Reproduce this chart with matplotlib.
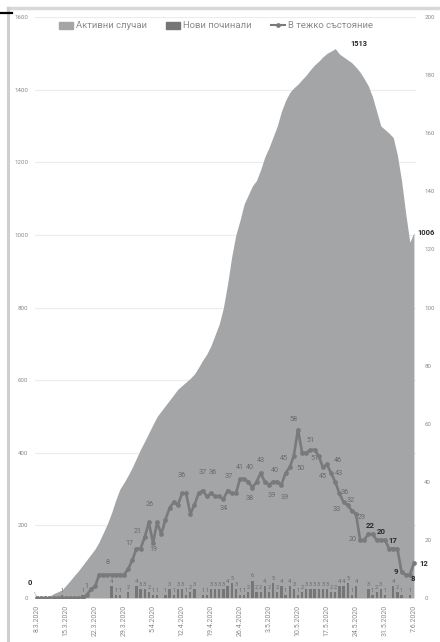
import matplotlib
matplotlib.use("Agg")
import matplotlib.pyplot as plt
from matplotlib.lines import Line2D
from matplotlib.patches import Patch

plt.rcParams['font.family'] = ['Roboto', 'DejaVu Sans']

# ---- data (8.3.2020 .. 7.6.2020, daily) ----
tick_labels = ["8.3.2020", "15.3.2020", "22.3.2020", "29.3.2020", "5.4.2020",
               "12.4.2020", "19.4.2020", "26.4.2020", "3.5.2020", "10.5.2020",
               "17.5.2020", "24.5.2020", "31.5.2020", "7.6.2020"]

active = [0, 0, 2, 5, 12, 17, 22, 35, 48, 62,
          75, 90, 105, 120, 135, 155, 180, 205, 235, 270,
          300, 318, 338, 360, 385, 410, 432, 455, 478, 500,
          515, 530, 545, 560, 575, 585, 595, 605, 617, 635,
          655, 672, 695, 725, 755, 800, 865, 940, 1000, 1040,
          1085, 1110, 1135, 1150, 1180, 1215, 1240, 1270, 1300, 1340,
          1370, 1392, 1405, 1415, 1428, 1440, 1455, 1468, 1478, 1490,
          1500, 1506, 1513, 1498, 1490, 1482, 1474, 1462, 1448, 1430,
          1410, 1380, 1340, 1300, 1290, 1280, 1268, 1220, 1150, 1060,
          980, 1006]

deaths = [0, 0, 0, 0, 0, 0, 1, 0, 0, 0,
          0, 1, 0, 0, 0, 0, 0, 0, 4, 1,
          1, 0, 2, 0, 4, 3, 3, 2, 1, 1,
          0, 1, 3, 1, 3, 3, 1, 2, 3, 0,
          1, 1, 3, 3, 3, 3, 4, 5, 3, 1,
          1, 2, 6, 2, 2, 4, 2, 5, 2, 4,
          1, 4, 3, 1, 2, 3, 3, 3, 3, 3,
          3, 2, 2, 4, 4, 5, 1, 4, 0, 0,
          3, 1, 2, 3, 1, 0, 4, 2, 1, 0,
          1, 0]

critical = [0, 0, 0, 0, 0, 0, 0, 0, 0, 0,
            0, 0, 1, 3, 4, 8, 8, 8, 8, 8,
            8, 8, 10, 13, 17, 17, 21, 26, 19, 26,
            22, 27, 31, 33, 32, 36, 36, 29, 32, 36,
            37, 35, 36, 35, 35, 34, 37, 36, 36, 41,
            41, 40, 38, 40, 43, 40, 39, 40, 40, 39,
            43, 45, 49, 58, 50, 50, 51, 51, 49, 45,
            46, 43, 40, 36, 33, 32, 30, 29, 20, 20,
            22, 22, 20, 20, 20, 17, 17, 17, 9, 8,
            8, 12]

legend_labels = ["Активни случаи", "Нови починали", "В тежко състояние"]

# ---- styles ----
AREA_C = "#a4a5a7"
BAR_C = "#767676"
LINE_C = "#7a7a7a"
TXT_C = "#8a8a8a"
LBL_C = "#6a6a6a"
BOLD_C = "#2a2a2a"

W, H = 440, 642
fig = plt.figure(figsize=(W / 100, H / 100), dpi=100)
fig.patch.set_facecolor("white")

# scan frame artefacts
fig.add_artist(Line2D([8 / W, 1], [1 - 8 / H, 1 - 8 / H], color="#d8d8d8", lw=2.5))
fig.add_artist(Line2D([8 / W, 8 / W], [0, 1 - 8 / H], color="#cfcfcf", lw=2.2))
fig.add_artist(Line2D([0, 12 / W], [1 - 13 / H, 1 - 13 / H], color="black", lw=1.6))

left, right, top, bottom = 35, 416, 17, 598
ax = fig.add_axes([left / W, 1 - bottom / H, (right - left) / W, (bottom - top) / H])
ax2 = ax.twinx()

n = len(active)
x = list(range(n))

ax.fill_between(x, active, 0, color=AREA_C, lw=0, zorder=2)
ax.set_ylim(0, 1600)
ax.set_xlim(-0.5, n - 0.5)
ax.set_yticks(range(0, 1601, 200))
ax.yaxis.grid(True, color="#ececec", lw=0.8)
ax.set_axisbelow(True)

ax2.bar(x, deaths, width=0.55, color=BAR_C, zorder=3)
ax2.plot(x, critical, color=LINE_C, lw=1.9, marker="o", ms=2.4,
         mfc=LINE_C, mec=LINE_C, zorder=4)
ax2.set_ylim(0, 200)
ax2.set_yticks(range(0, 201, 20))

for a in (ax, ax2):
    for s in a.spines.values():
        s.set_visible(False)
    a.tick_params(length=0, labelsize=4.4, labelcolor=TXT_C)
ax.tick_params(axis="y", pad=5)
ax2.tick_params(axis="y", pad=6)

ax.set_xticks(x[::7])
ax.set_xticklabels(tick_labels, rotation=90, fontsize=5.0, color=TXT_C)
ax.tick_params(axis="x", pad=5)

# ---- data labels: active ----
peak_i = active.index(max(active))
ax.annotate(str(active[peak_i]), (peak_i, active[peak_i]), xytext=(17, 3),
            textcoords="offset points", fontsize=5.4, fontweight="bold",
            color=BOLD_C, ha="center", va="center", zorder=6)
ax.annotate(str(active[-1]), (n - 1, active[-1]), xytext=(9, 0),
            textcoords="offset points", fontsize=5.4, fontweight="bold",
            color=BOLD_C, ha="center", va="center", annotation_clip=False, zorder=6)
ax.annotate(str(active[0]), (0, active[0]), xytext=(-5, 11),
            textcoords="offset points", fontsize=5.4, fontweight="bold",
            color=BOLD_C, ha="center", va="center", annotation_clip=False,
            arrowprops=dict(arrowstyle="-", color="#bbbbbb", lw=0.5,
                            shrinkA=2, shrinkB=0), zorder=6)

# ---- data labels: critical ----
crit_labels = {12: (0, 6), 17: (0, 9), 24: (-5, 4), 26: (-5, 4), 27: (1, 13),
               28: (0, -5), 35: (0, 13), 40: (0, 13), 42: (1, 15), 45: (0, -7),
               46: (1, 10), 49: (0, 8), 51: (1, 10), 52: (-2, -8), 54: (0, 9),
               56: (2, -8), 57: (1, 8), 59: (2, -9), 61: (-4, 6), 63: (-3, 7),
               64: (-1, -11), 66: (0, 7), 67: (0, -6), 69: (0, -7), 70: (8, 3),
               71: (6, 0), 73: (4, 1), 74: (-5, -5), 75: (2, 3), 77: (4, -3),
               78: (-5, 0)}
for i, (dx, dy) in crit_labels.items():
    ax2.annotate(str(critical[i]), (i, critical[i]), xytext=(dx, dy),
                 textcoords="offset points", fontsize=5.2, color=LBL_C,
                 ha="center", va="center", zorder=6)
crit_bold = {80: (1, 6), 83: (0, 6), 86: (0, 6), 88: (-4, 0), 90: (2, -3)}
for i, (dx, dy) in crit_bold.items():
    ax2.annotate(str(critical[i]), (i, critical[i]), xytext=(dx, dy),
                 textcoords="offset points", fontsize=5.6, fontweight="bold",
                 color=BOLD_C, ha="center", va="center", zorder=6)
ax2.annotate(str(critical[-1]), (n - 1, critical[-1]), xytext=(7, 0),
             textcoords="offset points", fontsize=5.6, fontweight="bold",
             color=BOLD_C, ha="center", va="center", annotation_clip=False, zorder=6)

# ---- data labels: deaths ----
for i, v in enumerate(deaths):
    if v > 0:
        ax2.annotate(str(v), (i, v), xytext=(0, 3.5), textcoords="offset points",
                     fontsize=4.0, color=LBL_C, ha="center", va="center", zorder=5)

# ---- legend ----
handles = [Patch(color=AREA_C), Patch(color=BAR_C),
           Line2D([0], [0], color=LINE_C, lw=1.5, marker="o", ms=2.4)]
leg = fig.legend(handles, legend_labels, loc="center", ncol=3,
                 bbox_to_anchor=(216 / W, 1 - 26 / H), frameon=False,
                 fontsize=6.8, handlelength=1.5, handleheight=0.7,
                 columnspacing=2.0, handletextpad=0.3, labelcolor="#8a8a8a")

fig.savefig("out.png", dpi=100, facecolor="white")
